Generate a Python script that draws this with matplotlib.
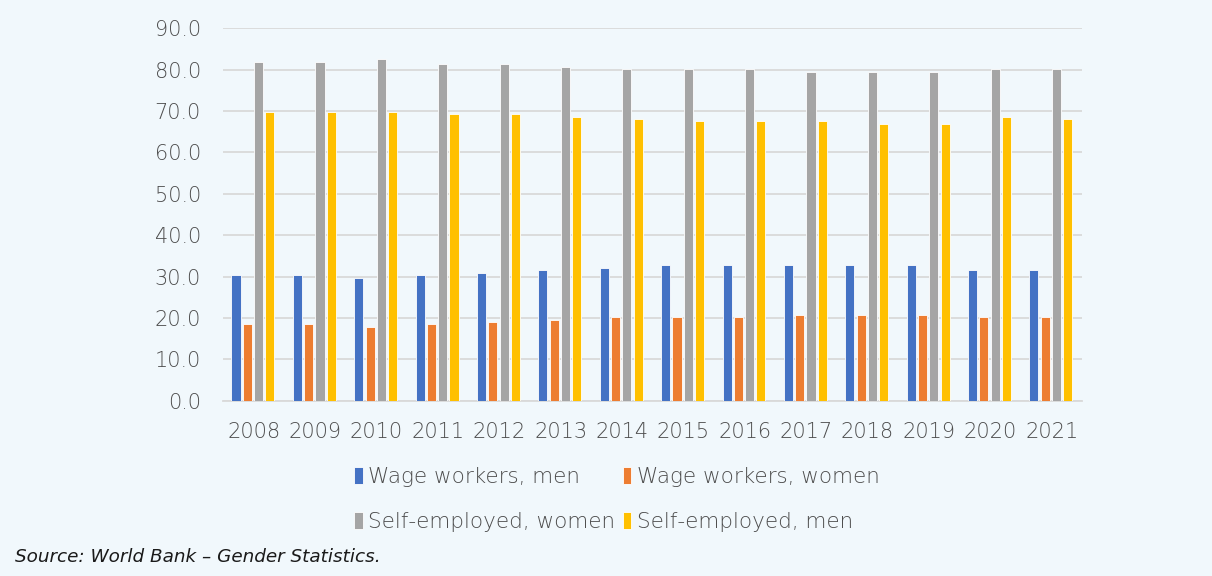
import matplotlib
matplotlib.use("Agg")
import matplotlib.pyplot as plt
import numpy as np

years = ["2008", "2009", "2010", "2011", "2012", "2013", "2014", "2015", "2016", "2017", "2018", "2019", "2020", "2021"]
wage_men = [30.3, 30.3, 29.7, 30.3, 30.9, 31.5, 32.0, 32.7, 32.7, 32.7, 32.7, 32.7, 31.5, 31.5]
wage_women = [18.5, 18.5, 17.8, 18.5, 19.1, 19.6, 20.2, 20.2, 20.2, 20.8, 20.8, 20.8, 20.2, 20.2]
self_women = [81.9, 81.9, 82.5, 81.3, 81.3, 80.7, 80.1, 80.1, 80.1, 79.5, 79.5, 79.5, 80.1, 80.1]
self_men = [69.8, 69.8, 69.8, 69.2, 69.2, 68.6, 68.0, 67.5, 67.5, 67.5, 66.8, 66.8, 68.6, 68.0]

series = [
    ("Wage workers, men", wage_men, "#4472C4"),
    ("Wage workers, women", wage_women, "#ED7D31"),
    ("Self-employed, women", self_women, "#A5A5A5"),
    ("Self-employed, men", self_men, "#FFC000"),
]

plt.rcParams['font.family'] = ['DejaVu Sans']
plt.rcParams['font.weight'] = 'light'
bg = "#F1F8FC"
txt = "#4d4d4d"
fig = plt.figure(figsize=(12.12, 5.76), dpi=100, facecolor=bg)
ax = fig.add_axes([0.184, 0.304, 0.709, 0.647], facecolor=bg)

x = np.arange(len(years))
step = 0.184
width = 0.148
handles = []
for i, (name, vals, col) in enumerate(series):
    h = ax.bar(x + (i - 1.5) * step - 0.012, vals, width, color=col, edgecolor="white",
               linewidth=0.6, label=name, zorder=3)
    handles.append(h)

ax.set_ylim(0, 90)
ax.set_xlim(-0.5, len(years) - 0.5)
ax.set_yticks(np.arange(0, 91, 10))
ax.set_yticklabels([f"{v:.1f}" for v in np.arange(0, 91, 10)])
ax.set_xticks(x)
ax.set_xticklabels(years)
ax.grid(axis="y", color="#D9D9D9", linewidth=1.3, zorder=0)
for s in ["top", "right", "left"]:
    ax.spines[s].set_visible(False)
ax.spines["bottom"].set_color("#D9D9D9")
ax.spines["bottom"].set_linewidth(1.3)
ax.tick_params(axis="both", length=0, labelsize=15, colors=txt)
ax.tick_params(axis="y", pad=16)
ax.tick_params(axis="x", pad=15)

# order handles so that rows read: wage men, wage women / self women, self men
order = [0, 2, 1, 3]
leg = fig.legend(handles=[handles[i] for i in order], labels=[series[i][0] for i in order],
                 loc="center", bbox_to_anchor=(0.509, 0.133), ncol=2,
                 frameon=False, fontsize=15.5, handlelength=0.4, handleheight=0.85,
                 handletextpad=0.25, columnspacing=0.35, labelspacing=1.15)
for t in leg.get_texts():
    t.set_color(txt)

fig.text(0.012, 0.033, "Source: World Bank \u2013 Gender Statistics.", fontsize=13.2,
         style="italic", color="#1a1a1a", ha="left", va="center")

fig.savefig("out.png", dpi=100, facecolor=bg)
